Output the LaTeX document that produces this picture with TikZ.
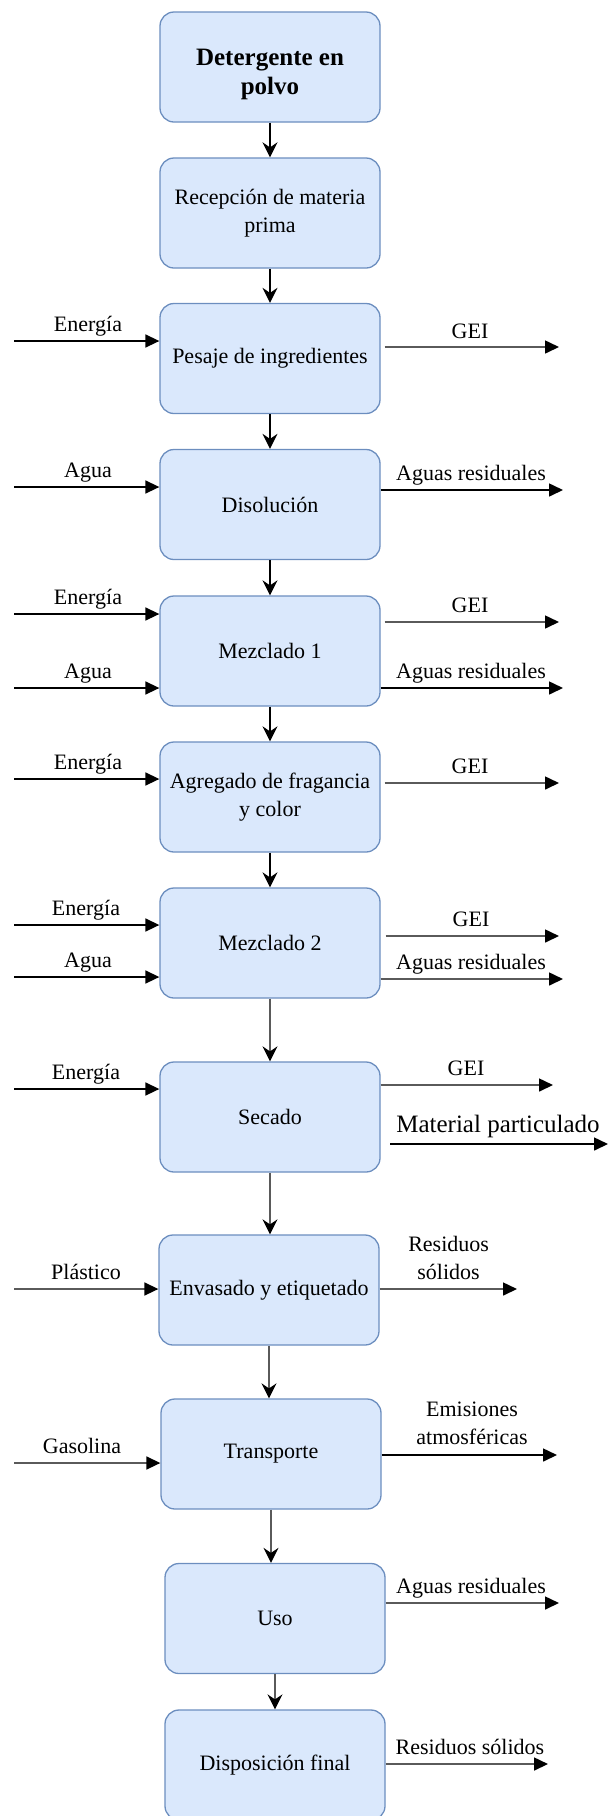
\documentclass[tikz,border=0pt]{standalone}
\usepackage{fontspec}
\setmainfont{Liberation Serif}
\usetikzlibrary{arrows.meta}

\definecolor{boxfill}{HTML}{DAE8FC}
\definecolor{boxline}{HTML}{6C8EBF}
\definecolor{flowgray}{HTML}{5A5A5A}

\tikzset{
  stage/.style={draw=boxline, fill=boxfill, line width=1.3pt, rounded corners=14pt,
    minimum width=220pt, minimum height=110pt, inner sep=0pt, align=center,
    font=\fontsize{22}{28}\selectfont},
  titlebox/.style={stage, font=\bfseries\fontsize{25}{30}\selectfont,
    text height=60pt, text depth=5.4pt},
  vflow/.style={line width=1.6pt, -{Stealth[length=15pt,width=15pt,inset=5pt]}},
  vflowgray/.style={vflow, draw=flowgray, -{Stealth[length=15pt,width=15pt,inset=5pt,color=black]}},
  hflow/.style={line width=1.6pt, -{Triangle[length=14pt,width=13pt]}},
  hflowgray/.style={hflow, draw=flowgray, -{Triangle[length=14pt,width=13pt,color=black]}},
  lbl/.style={anchor=base, inner sep=0pt, align=center, font=\fontsize{22}{28}\selectfont},
  biglbl/.style={lbl, font=\fontsize{25}{30}\selectfont},
}

\begin{document}
\begin{tikzpicture}[x=1pt, y=-1pt]
  \useasboundingbox (0,0) rectangle (609,1816);

  % process stages
  \node[titlebox] (b1) at (270,67) {\shortstack{Detergente en\\[3pt]polvo}};
  \node[stage] (b2) at (270,213) {Recepción de materia\\prima};
  \node[stage] (b3) at (270,358.5) {Pesaje de ingredientes};
  \node[stage] (b4) at (270,504.5) {Disolución};
  \node[stage] (b5) at (270,651) {Mezclado 1};
  \node[stage] (b6) at (270,797) {Agregado de fragancia\\y color};
  \node[stage] (b7) at (270,943) {Mezclado 2};
  \node[stage] (b8) at (270,1117) {Secado};
  \node[stage] (b9) at (269,1290) {Envasado y etiquetado};
  \node[stage] (b10) at (271,1454) {Transporte};
  \node[stage] (b11) at (275,1618.5) {Uso};
  \node[stage] (b12) at (275,1765) {Disposición final};

  % main sequence
  \foreach \a/\b in {b1/b2, b2/b3, b3/b4, b4/b5, b5/b6, b6/b7}
    \draw[vflow] (\a.south) -- (\a.south |- \b.north);
  \foreach \a/\b in {b7/b8, b8/b9, b9/b10, b10/b11, b11/b12}
    \draw[vflowgray] (\a.south) -- (\a.south |- \b.north);

  % inputs
  \coordinate (i3) at (14,341);
  \draw[hflow] (i3) -- (i3 -| b3.west);
  \node[lbl] (li3) at (88,331) {Energía};

  \coordinate (i4) at (14,487);
  \draw[hflow] (i4) -- (i4 -| b4.west);
  \node[lbl] (li4) at (88,477) {Agua};

  \coordinate (i5a) at (14,614);
  \draw[hflow] (i5a) -- (i5a -| b5.west);
  \node[lbl] (li5a) at (88,604) {Energía};
  \coordinate (i5b) at (14,688);
  \draw[hflow] (i5b) -- (i5b -| b5.west);
  \node[lbl] (li5b) at (88,678) {Agua};

  \coordinate (i6) at (14,779);
  \draw[hflow] (i6) -- (i6 -| b6.west);
  \node[lbl] (li6) at (88,769) {Energía};

  \coordinate (i7a) at (14,925);
  \draw[hflow] (i7a) -- (i7a -| b7.west);
  \node[lbl] (li7a) at (86,915) {Energía};
  \coordinate (i7b) at (14,977);
  \draw[hflow] (i7b) -- (i7b -| b7.west);
  \node[lbl] (li7b) at (88,967) {Agua};

  \coordinate (i8) at (14,1089);
  \draw[hflow] (i8) -- (i8 -| b8.west);
  \node[lbl] (li8) at (86,1079) {Energía};

  \coordinate (i9) at (14,1289);
  \draw[hflowgray] (i9) -- (i9 -| b9.west);
  \node[lbl] (li9) at (86,1279) {Plástico};

  \coordinate (i10) at (14,1463);
  \draw[hflowgray] (i10) -- (i10 -| b10.west);
  \node[lbl] (li10) at (82,1453) {Gasolina};

  % outputs
  \coordinate (o3) at (559,347);
  \draw[hflowgray, shorten <=4pt] (o3 -| b3.east) -- (o3);
  \node[lbl] (lo3) at (470,338) {GEI};

  \coordinate (o4) at (563,490);
  \draw[hflow] (o4 -| b4.east) -- (o4);
  \node[lbl] (lo4) at (471,480.5) {Aguas residuales};

  \coordinate (o5a) at (559,622);
  \draw[hflowgray, shorten <=4pt] (o5a -| b5.east) -- (o5a);
  \node[lbl] (lo5a) at (470,612) {GEI};
  \coordinate (o5b) at (563,688);
  \draw[hflow] (o5b -| b5.east) -- (o5b);
  \node[lbl] (lo5b) at (471,678) {Aguas residuales};

  \coordinate (o6) at (559,783);
  \draw[hflowgray, shorten <=4pt] (o6 -| b6.east) -- (o6);
  \node[lbl] (lo6) at (470,773) {GEI};

  \coordinate (o7a) at (559,936);
  \draw[hflowgray, shorten <=5pt] (o7a -| b7.east) -- (o7a);
  \node[lbl] (lo7a) at (471,926) {GEI};
  \coordinate (o7b) at (563,979);
  \draw[hflowgray] (o7b -| b7.east) -- (o7b);
  \node[lbl] (lo7b) at (471,969) {Aguas residuales};

  \coordinate (o8a) at (553,1085);
  \draw[hflowgray] (o8a -| b8.east) -- (o8a);
  \node[lbl] (lo8a) at (466,1075) {GEI};
  \coordinate (o8b) at (608,1144);
  \draw[hflow, shorten <=9.5pt] (o8b -| b8.east) -- (o8b);
  \node[biglbl] (lo8b) at (498,1132) {Material particulado};

  % two-line labels: the base anchor sits on the last line
  \coordinate (o9) at (517,1289);
  \draw[hflowgray] (o9 -| b9.east) -- (o9);
  \node[lbl] (lo9) at (448.6,1279.3) {Residuos\\sólidos};

  \coordinate (o10) at (557,1455);
  \draw[hflow] (o10 -| b10.east) -- (o10);
  \node[lbl] (lo10) at (472,1444) {Emisiones\\atmosféricas};

  \coordinate (o11) at (559,1603);
  \draw[hflowgray] (o11 -| b11.east) -- (o11);
  \node[lbl] (lo11) at (471,1593) {Aguas residuales};

  \coordinate (o12) at (548,1764);
  \draw[hflowgray] (o12 -| b12.east) -- (o12);
  \node[lbl] (lo12) at (470,1754) {Residuos sólidos};
\end{tikzpicture}
\end{document}
